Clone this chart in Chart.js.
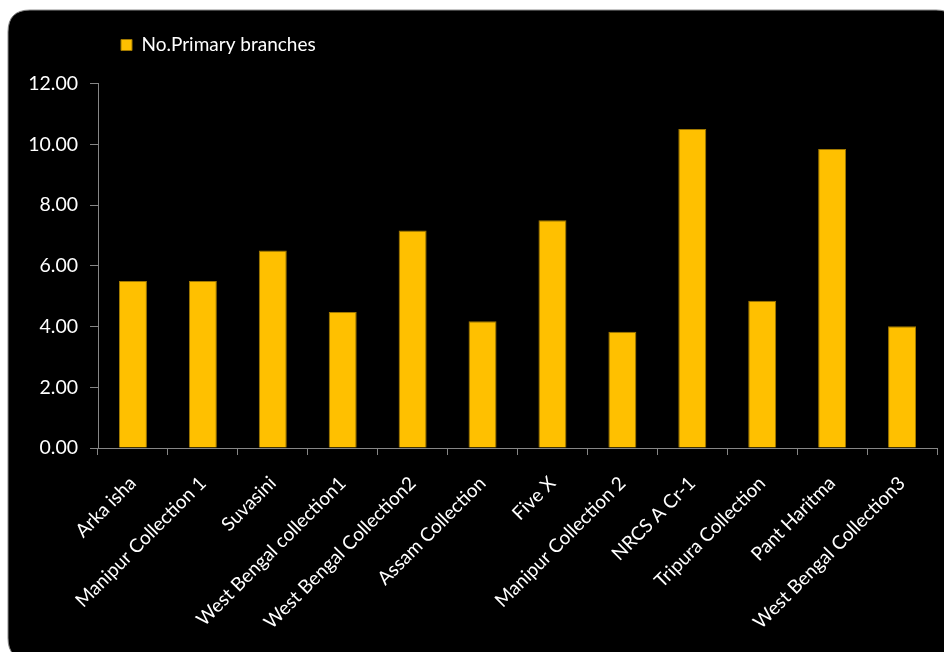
<!DOCTYPE html>
<html>
<head>
<meta charset="utf-8">
<script src="https://cdn.jsdelivr.net/npm/chart.js@4/dist/chart.umd.min.js"></script>
<style>
  html, body { margin: 0; padding: 0; background: #ffffff; }
  #wrap { width: 944px; height: 652px; position: relative; }
</style>
</head>
<body>
<div id="wrap"><canvas id="c" width="944" height="652"></canvas></div>
<script>
const categories = [
  "Arka isha", "Manipur Collection 1", "Suvasini", "West Bengal collection1",
  "West Bengal Collection2", "Assam Collection", "Five X", "Manipur Collection 2",
  "NRCS A Cr-1", "Tripura Collection", "Pant Haritma", "West Bengal Collection3"
];
const primaryBranches = [5.50, 5.50, 6.50, 4.48, 7.16, 4.17, 7.50, 3.83, 10.50, 4.85, 9.84, 4.01];
const seriesName = "No.Primary branches";
const yTicks = { min: 0, max: 12, step: 2 };

const bgPlugin = {
  id: 'blackPanel',
  beforeDraw(chart) {
    const ctx = chart.ctx;
    ctx.save();
    ctx.fillStyle = '#ffffff';
    ctx.fillRect(0, 0, chart.width, chart.height);
    const x = 8, y = 10, w = 950, h = 650, r = 22;
    ctx.beginPath();
    ctx.moveTo(x + r, y);
    ctx.lineTo(x + w - r, y);
    ctx.quadraticCurveTo(x + w, y, x + w, y + r);
    ctx.lineTo(x + w, y + h - r);
    ctx.quadraticCurveTo(x + w, y + h, x + w - r, y + h);
    ctx.lineTo(x + r, y + h);
    ctx.quadraticCurveTo(x, y + h, x, y + h - r);
    ctx.lineTo(x, y + r);
    ctx.quadraticCurveTo(x, y, x + r, y);
    ctx.closePath();
    ctx.fillStyle = '#000000';
    ctx.fill();
    ctx.strokeStyle = '#8a8a8a';
    ctx.lineWidth = 1;
    ctx.stroke();
    ctx.restore();
  }
};

const legendShift = {
  id: 'legendShift',
  afterLayout(chart) {
    if (chart.legend) {
      chart.legend.left += 85.5;
      chart.legend.right += 85.5;
      chart.legend.top -= 19;
      chart.legend.bottom -= 19;
    }
  }
};

new Chart(document.getElementById('c'), {
  type: 'bar',
  data: {
    labels: categories,
    datasets: [{
      label: seriesName,
      data: primaryBranches,
      backgroundColor: '#FFC000',
      borderColor: '#A07800',
      borderWidth: 1,
      barPercentage: 0.4,
      categoryPercentage: 1.0
    }]
  },
  options: {
    responsive: false,
    animation: false,
    devicePixelRatio: 1,
    layout: { padding: { left: 8, top: 27, right: 7, bottom: 0 } },
    plugins: {
      legend: {
        display: true,
        position: 'top',
        align: 'start',
        labels: {
          color: '#ffffff',
          font: { family: 'Lato', size: 19 },
          boxWidth: 11,
          boxHeight: 11,
          padding: 27.5
        }
      },
      tooltip: { enabled: false }
    },
    scales: {
      x: {
        offset: true,
        grid: {
          display: true,
          offset: true,
          drawOnChartArea: false,
          drawTicks: true,
          tickLength: 7,
          color: '#868686'
        },
        border: { display: true, color: '#868686', width: 1 },
        ticks: {
          color: '#ffffff',
          font: { family: 'Lato', size: 19 },
          minRotation: 45,
          maxRotation: 45,
          autoSkip: false,
          padding: 17
        },
        afterFit(scale) { scale.height = 204; }
      },
      y: {
        min: yTicks.min,
        max: yTicks.max,
        grid: {
          display: true,
          drawOnChartArea: false,
          drawTicks: true,
          tickLength: 8,
          color: '#868686'
        },
        border: { display: true, color: '#868686', width: 1 },
        ticks: {
          stepSize: yTicks.step,
          color: '#ffffff',
          font: { family: 'Lato', size: 19.5 },
          padding: 12,
          callback: (v) => Number(v).toFixed(2)
        },
        afterFit(scale) { scale.width = 90; }
      }
    }
  },
  plugins: [bgPlugin, legendShift]
});
</script>
</body>
</html>
